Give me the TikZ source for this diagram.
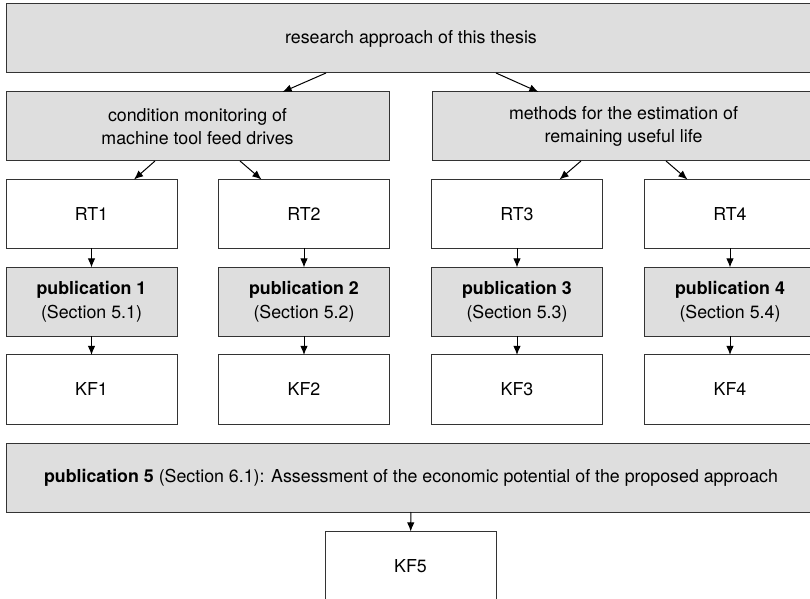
\documentclass[tikz,border=0pt]{standalone}
\usepackage{fontspec}
\setmainfont{TeX Gyre Heros}
\usetikzlibrary{arrows.meta}
\tikzset{
  box/.style={draw=black!80, line width=0.5pt, fill=white, minimum height=34.5pt,
    minimum width=85.5pt, inner sep=0pt, outer sep=0pt, align=center,
    font=\fontsize{8.9}{11.8}\selectfont},
  greybox/.style={box, fill=black!13},
  arr/.style={-{Latex[length=4.6pt,width=3.8pt]}, line width=0.5pt},
}
\begin{document}
\begin{tikzpicture}[x=0.5pt, y=-0.5pt]
  \useasboundingbox (0,0) rectangle (810,599);

  % Ebene 1 und 2
  \node[greybox, minimum width=405pt] (thesis) at (411,38.5) {research approach of this thesis};
  \node[greybox, minimum width=191.5pt] (cm) at (197.5,126.5) {condition monitoring of\\machine tool feed drives};
  \node[greybox, minimum width=191.5pt] (rul) at (623.5,126.5) {methods for the estimation of\\remaining useful life};

  % vier Spalten: RT -> publication -> KF
  \foreach \i/\x in {1/91.5, 2/304, 3/517, 4/730} {
    \node[box] (rt\i) at (\x,214) {RT\i};
    \node[greybox] (pub\i) at (\x,302) {\textbf{publication \i}\\(Section 5.\i)};
    \node[box] (kf\i) at (\x,389.5) {KF\i};
    \draw[arr] (rt\i) -- (pub\i);
    \draw[arr] (pub\i) -- (kf\i);
  }

  % publication 5
  \node[greybox, minimum width=405pt] (pub5) at (411,477.5)
    {\textbf{publication 5} (Section 6.1): Assessment of the economic potential of the proposed approach};
  \node[box] (kf5) at (410.5,566) {KF5};
  \draw[arr] (pub5) -- (kf5);

  % schraege Pfeile
  \draw[arr] ([xshift=-42.5pt]thesis.south) -- ([xshift=42.5pt]cm.north);
  \draw[arr] ([xshift=42.5pt]thesis.south) -- ([xshift=-42.5pt]rul.north);
  \draw[arr] ([xshift=-21.25pt]cm.south) -- ([xshift=21.25pt]rt1.north);
  \draw[arr] ([xshift=21.25pt]cm.south) -- ([xshift=-21.25pt]rt2.north);
  \draw[arr] ([xshift=-21.25pt]rul.south) -- ([xshift=21.25pt]rt3.north);
  \draw[arr] ([xshift=21.25pt]rul.south) -- ([xshift=-21.25pt]rt4.north);
\end{tikzpicture}
\end{document}
